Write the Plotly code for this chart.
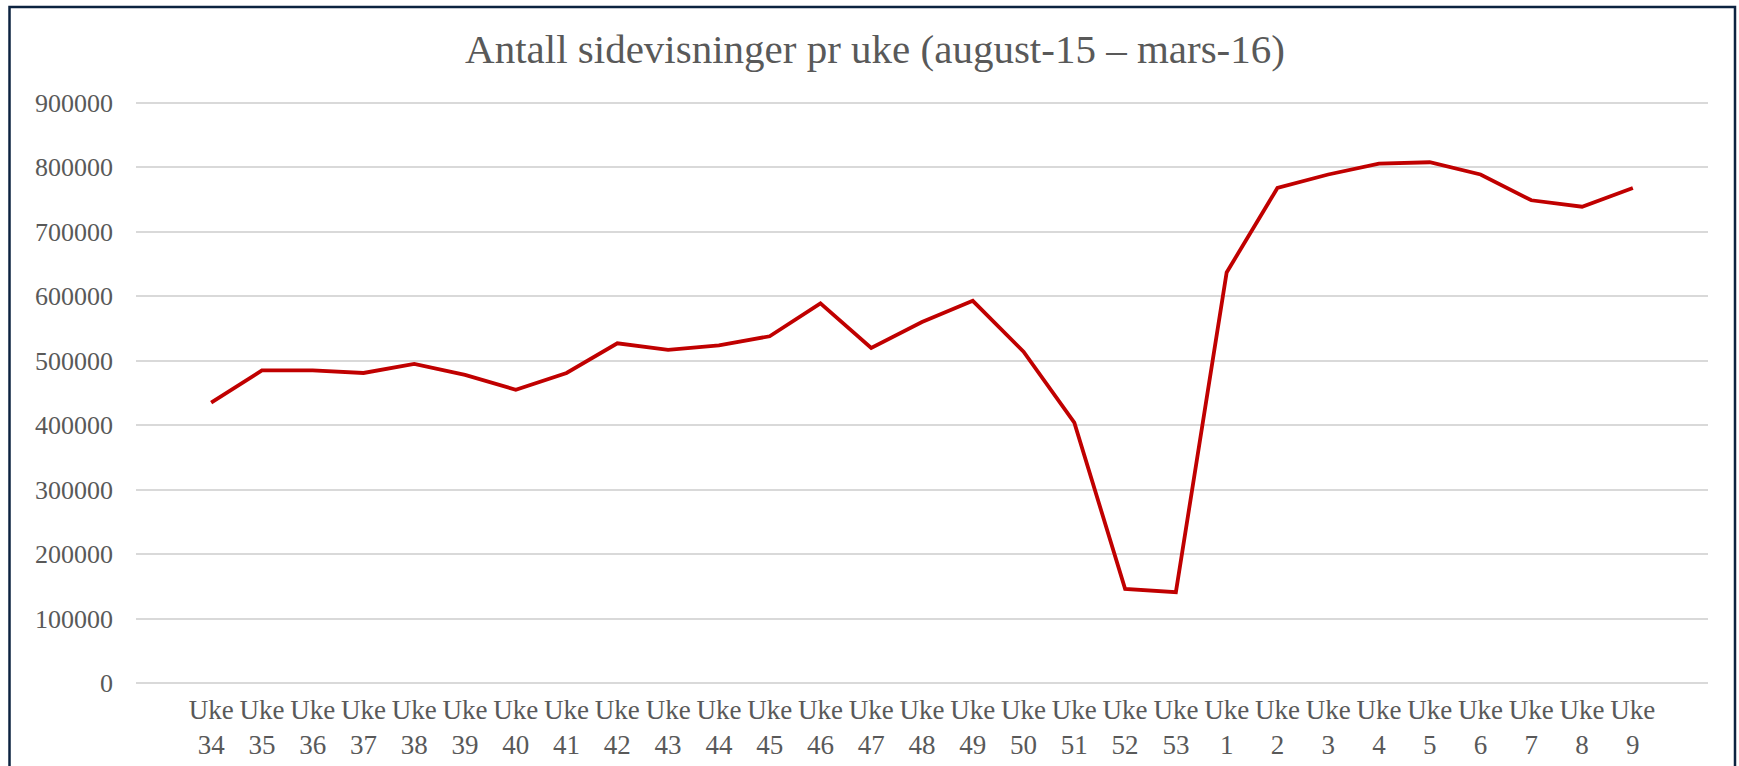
import plotly.graph_objects as go

# ---- data ----
weeks = ["34", "35", "36", "37", "38", "39", "40", "41", "42", "43", "44", "45",
         "46", "47", "48", "49", "50", "51", "52", "53",
         "1", "2", "3", "4", "5", "6", "7", "8", "9"]
page_views = [435000, 485000, 485000, 481000, 495000, 478000, 455000, 481000,
              527000, 517000, 524000, 538000, 589000, 520000, 560000, 593000,
              514000, 404000, 146000, 141000,
              637000, 768000, 789000, 806000, 808000, 789000, 749000, 739000, 768000]
categories = ["Uke<br>" + w for w in weeks]
title_text = "Antall sidevisninger pr uke (august-15 – mars-16)"
y_ticks = [0, 100000, 200000, 300000, 400000, 500000, 600000, 700000, 800000, 900000]

W, H = 1739, 766
L, R, T, B = 136, 31, 101, 83
FONT = "Liberation Serif"
TXT = "#595959"
GRID = "#d9d9d9"

fig = go.Figure()
fig.add_trace(go.Scatter(
    x=categories, y=page_views, mode="lines",
    line=dict(color="#c00000", width=3.8),
    showlegend=False,
))

pw = W - L - R
ph = H - T - B
fig.add_shape(type="rect", xref="paper", yref="paper",
              x0=(9.5 - L) / pw, x1=(1735 - L) / pw,
              y0=(H - B - 790) / ph, y1=(H - B - 7) / ph,
              line=dict(color="#0c2340", width=2.5), fillcolor="rgba(0,0,0,0)",
              layer="above")

fig.update_layout(
    width=W, height=H,
    margin=dict(l=L, r=R, t=T, b=B, autoexpand=False),
    paper_bgcolor="white", plot_bgcolor="white",
    font=dict(family=FONT, color=TXT, size=27),
    title=dict(text=title_text, x=875 / W, xanchor="center", xref="container",
               y=1 - 49 / H, yanchor="middle", yref="container",
               font=dict(family=FONT, size=41, color=TXT)),
)
fig.update_xaxes(
    type="category", range=[-1.48, 29.48], automargin=False,
    showgrid=False, showline=False, zeroline=False, ticks="",
    tickfont=dict(family=FONT, size=27, color=TXT), tickangle=0,
    ticklabelstandoff=8,
)
fig.update_yaxes(
    range=[0, 903000], tickvals=y_ticks, tickformat="d", automargin=False,
    showgrid=True, gridcolor=GRID, gridwidth=1.6,
    zeroline=True, zerolinecolor=GRID, zerolinewidth=1.6,
    showline=False, ticks="",
    tickfont=dict(family=FONT, size=26, color=TXT),
    ticklabelstandoff=22,
)

fig.write_html("out.html", config={"displayModeBar": False},
               post_script="document.body.style.margin='0';document.body.style.overflow='hidden';")
